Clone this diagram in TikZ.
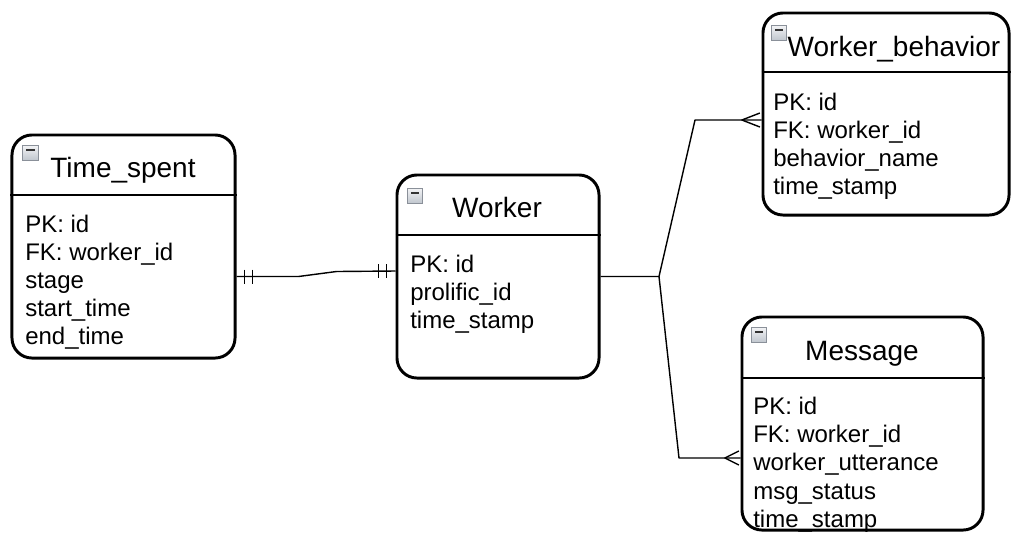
\documentclass[tikz,border=0pt]{standalone}
\usepackage{fontspec}
\setmainfont{Liberation Sans}
\usepackage{xcolor}
\usepackage{tikz}
\definecolor{iconedge}{HTML}{8a9099}
\definecolor{icontop}{HTML}{f2f3f5}
\definecolor{iconbottom}{HTML}{bfc5cd}

\tikzset{
  entity/.style={draw, rounded corners=0.5cm, line width=2.1pt, fill=white, inner sep=0},
  divider/.style={line width=2.1pt},
  title/.style={anchor=base, inner sep=0, font=\fontsize{19.9}{24}\selectfont},
  field/.style={anchor=base west, inner sep=0, font=\fontsize{17.07}{20}\selectfont},
  rel/.style={line width=1pt, line join=round},
  minusbox/.style={draw=iconedge, line width=0.6pt, top color=icontop, bottom color=iconbottom,
    minimum size=0.38cm, inner sep=0,
    path picture={\draw[line width=1.2pt, black!80]
      ([xshift=-0.1cm, yshift=0.07cm]path picture bounding box.center) --
      ([xshift=0.1cm, yshift=0.07cm]path picture bounding box.center);}}
}

\begin{document}
\begin{tikzpicture}[x=0.025cm, y=-0.025cm]%
\useasboundingbox (0,0) rectangle (1012,535);%
% tables
\node[entity, minimum width=5.575cm, minimum height=5.575cm] (ts) at (123.5,246.5) {};%
\node[entity, minimum width=5.05cm, minimum height=5.075cm] (wk) at (498,276.5) {};%
\node[entity, minimum width=6.15cm, minimum height=5.05cm] (wb) at (886,114) {};%
\node[entity, minimum width=6.025cm, minimum height=5.325cm] (msg) at (862.5,423.5) {};%
\draw[divider] (ts.west |- 0,195) -- (ts.east |- 0,195);%
\draw[divider] (wk.west |- 0,235) -- (wk.east |- 0,235);%
\draw[divider] (wb.west |- 0,72) -- (wb.east |- 0,72);%
\draw[divider] (msg.west |- 0,378) -- (msg.east |- 0,378);%
% collapse icons
\node[minusbox] (ts-icon) at (30.5,153) {};%
\node[minusbox] (wk-icon) at (415,196) {};%
\node[minusbox] (wb-icon) at (779,33) {};%
\node[minusbox] (msg-icon) at (759,335) {};%
% headers
\node[title] (ts-title) at (123,177) {Time\_spent};%
\node[title] (wk-title) at (497,217) {Worker};%
\node[title] (wb-title) at (894,56) {Worker\_behavior};%
\node[title] (msg-title) at (862,360) {Message};%
% Time_spent fields
\node[field] (ts-pk) at (25,232) {PK: id};%
\node[field] (ts-fk) at (25,260) {FK: worker\_id};%
\node[field] (ts-stage) at (25,288) {stage};%
\node[field] (ts-start) at (25,316) {start\_time};%
\node[field] (ts-end) at (25,344) {end\_time};%
% Worker fields
\node[field] (wk-pk) at (410,272) {PK: id};%
\node[field] (wk-prolific) at (410,300) {prolific\_id};%
\node[field] (wk-stamp) at (410,328) {time\_stamp};%
% Worker_behavior fields
\node[field] (wb-pk) at (773,110) {PK: id};%
\node[field] (wb-fk) at (773,138) {FK: worker\_id};%
\node[field] (wb-name) at (773,166) {behavior\_name};%
\node[field] (wb-stamp) at (773,194) {time\_stamp};%
% Message fields
\node[field] (msg-pk) at (753,414) {PK: id};%
\node[field] (msg-fk) at (753,442) {FK: worker\_id};%
\node[field] (msg-utt) at (753,470) {worker\_utterance};%
\node[field] (msg-status) at (753,499) {msg\_status};%
\node[field] (msg-stamp) at (753,527) {time\_stamp};%
% one-to-one: Time_spent -- Worker
\coordinate (ts-out) at (ts.east |- wk.center);%
\coordinate (wk-in) at (wk.west |- 0,271);%
\draw[rel] (ts-out) -- ++(62,0) -- ++(38,-5) -- (wk-in);%
\draw[rel] ([xshift=0.2cm]ts-out) ++(0,-7) -- ++(0,14);%
\draw[rel] ([xshift=0.4cm]ts-out) ++(0,-7) -- ++(0,14);%
\draw[rel] ([xshift=-0.225cm]wk-in) ++(0,-7) -- ++(0,14);%
\draw[rel] ([xshift=-0.425cm]wk-in) ++(0,-7) -- ++(0,14);%
% one-to-many: Worker -- Worker_behavior, Message
\coordinate (fork) at (659,276.5);%
\coordinate (wb-bend) at (695,120);%
\coordinate (msg-bend) at (679,458);%
\coordinate (wb-in) at (wb.west |- wb-bend);%
\coordinate (msg-in) at (msg.west |- msg-bend);%
\draw[rel] (wk.east) -- (fork) -- (wb-bend) -- (wb-in);%
\draw[rel] (fork) -- (msg-bend) -- (msg-in);%
\draw[rel] ([xshift=-0.04cm]wb-in) ++(0,-7) -- ++(-18,7) -- ++(18,7);%
\draw[rel] ([xshift=-0.04cm]msg-in) ++(0,-7) -- ++(-14,7) -- ++(14,7);%
\end{tikzpicture}
\end{document}
